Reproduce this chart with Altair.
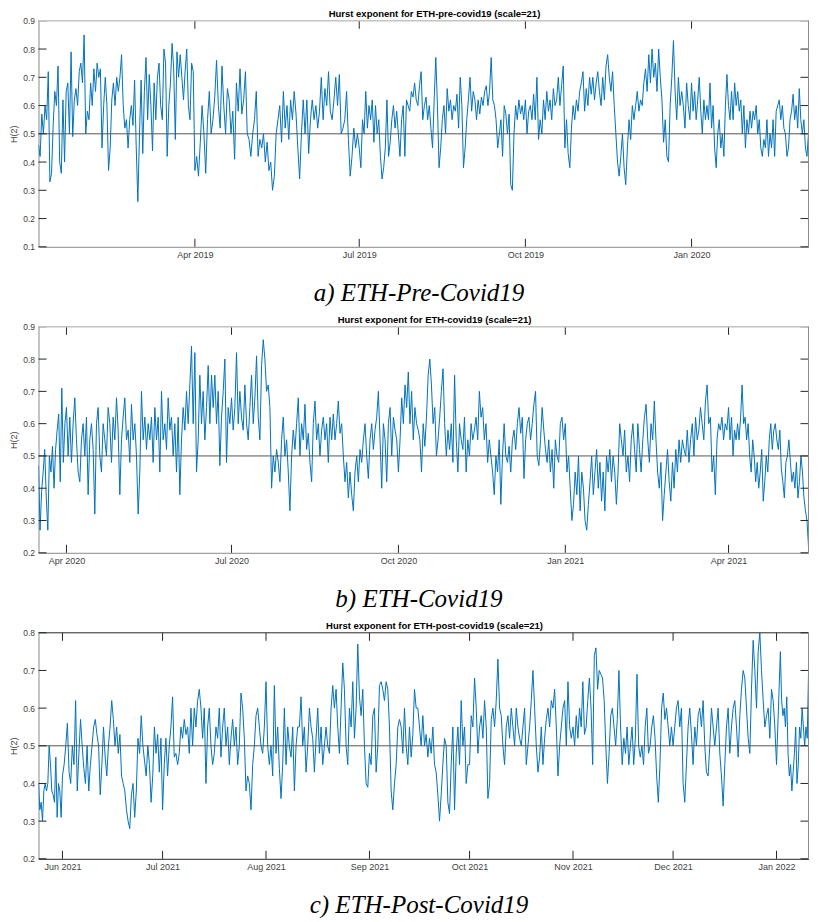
import altair as alt
import pandas as pd

# ---------------- data ----------------
# Panel a: ETH pre-covid19, segments between quarter boundaries (last bound = visible end)
A_BOUNDS = ["2019-01-04 10:00", "2019-04-01", "2019-07-01", "2019-10-01", "2020-01-01", "2020-03-05 18:00"]
A1 = [0.46,0.42,0.57,0.50,0.60,0.55,0.72,0.33,0.36,0.53,0.65,0.60,0.74,0.40,0.36,0.62,0.40,0.65,0.68,0.50,
      0.79,0.49,0.62,0.66,0.60,0.72,0.75,0.68,0.85,0.50,0.58,0.55,0.68,0.60,0.73,0.65,0.75,0.70,0.73,0.45,
      0.60,0.70,0.60,0.37,0.45,0.62,0.68,0.60,0.70,0.65,0.70,0.78,0.60,0.52,0.55,0.45,0.55,0.60,0.53,0.69,
      0.45,0.26,0.50,0.69,0.43,0.65,0.77,0.55,0.71,0.60,0.44,0.68,0.55,0.70,0.75,0.60,0.55,0.80,0.75,0.42,
      0.60,0.68,0.82,0.73,0.48,0.79,0.70,0.78,0.70,0.62,0.72,0.80,0.60,0.55,0.75,0.72]
A2 = [0.37,0.42,0.35,0.47,0.60,0.50,0.36,0.55,0.65,0.50,0.55,0.63,0.76,0.60,0.52,0.74,0.60,0.50,0.66,0.62,
      0.50,0.58,0.41,0.68,0.58,0.73,0.57,0.62,0.72,0.50,0.48,0.42,0.50,0.55,0.65,0.42,0.48,0.45,0.50,0.40,
      0.47,0.37,0.40,0.30,0.35,0.50,0.55,0.60,0.47,0.65,0.52,0.60,0.48,0.62,0.55,0.65,0.57,0.45,0.34,0.50,
      0.62,0.50,0.62,0.43,0.55,0.62,0.55,0.60,0.52,0.58,0.70,0.55,0.66,0.60,0.72,0.58,0.55,0.62,0.70,0.60,
      0.71,0.50,0.52,0.55,0.65,0.48,0.35,0.42,0.52,0.45,0.50]
A3 = [0.45,0.38,0.55,0.50,0.65,0.52,0.60,0.55,0.62,0.47,0.60,0.50,0.55,0.42,0.34,0.38,0.45,0.62,0.42,0.47,
      0.55,0.60,0.52,0.58,0.50,0.42,0.55,0.60,0.42,0.62,0.60,0.58,0.65,0.63,0.68,0.62,
      0.60,0.67,0.72,0.55,0.60,0.63,0.55,0.60,0.52,0.45,0.62,0.77,0.60,0.38,0.45,0.55,0.60,0.50,0.66,0.58,
      0.62,0.55,0.60,0.58,0.64,0.52,0.70,0.60,0.38,0.45,0.55,0.62,0.70,0.58,0.65,0.62,0.55,0.62,0.57,0.63,
      0.60,0.65,0.67,0.60,0.65,0.77,0.62,0.60,0.55,0.45,0.50,0.55,0.42,0.60,0.57,0.50,0.57,0.32,0.30,0.50,
      0.60,0.55,0.62,0.57,0.60,0.55]
A4 = [0.62,0.50,0.58,0.60,0.55,0.64,0.55,0.70,0.48,0.55,0.50,0.62,0.55,0.65,0.58,0.62,0.55,0.66,0.60,0.62,
      0.70,0.60,0.67,0.74,0.45,0.55,0.43,0.38,0.52,0.60,0.55,0.62,0.58,0.65,0.68,0.72,0.58,0.66,0.60,0.70,
      0.64,0.70,0.62,0.68,0.72,0.65,0.60,0.70,0.62,0.74,0.78,0.70,0.65,0.72,0.60,0.50,0.40,0.35,0.42,0.50,
      0.38,0.32,0.45,0.55,0.48,0.60,0.55,0.60,0.65,0.58,0.62,0.60,0.68,0.73,0.65,0.78,0.68,0.80,0.70,0.75,
      0.65,0.80,0.70,0.62,0.47,0.55,0.42,0.40,0.60,0.70,0.83,0.65,0.55,0.70,0.60,0.65,0.60,0.52,0.68,0.60,
      0.55]
A5 = [0.68,0.58,0.65,0.55,0.62,0.70,0.58,0.50,0.62,0.55,0.60,0.55,0.68,0.52,0.60,0.45,0.38,0.50,0.55,0.45,
      0.50,0.42,0.60,0.71,0.60,0.55,0.65,0.55,0.68,0.60,0.65,0.58,0.62,0.50,0.60,0.45,0.55,0.50,0.58,0.52,
      0.58,0.55,0.60,0.50,0.55,0.45,0.42,0.48,0.45,0.55,0.42,0.50,0.45,0.55,0.42,0.58,0.60,0.62,0.55,0.60,
      0.52,0.50,0.42,0.45,0.55,0.58,0.64,0.55,0.60,0.52,0.66,0.55,0.50,0.55,0.45,0.42,0.50]
A_XTICKS = ["2019-04-01", "2019-07-01", "2019-10-01", "2020-01-01"]
A_YTICKS = [0.1, 0.2, 0.3, 0.4, 0.5, 0.6, 0.7, 0.8, 0.9]

# Panel b: ETH covid19
B_BOUNDS = ["2020-03-16 14:00", "2020-04-01", "2020-07-01", "2020-10-01", "2021-01-01", "2021-04-01", "2021-05-15 02:00"]
B1 = [0.47,0.27,0.39,0.45,0.52,0.37,0.27,0.50,0.45,0.53,0.40,0.52,0.58,0.63,0.42,0.71,0.48,0.60]
B2 = [0.65,0.50,0.62,0.48,0.60,0.68,0.55,0.45,0.42,0.55,0.60,0.50,0.62,0.38,0.55,0.60,0.52,0.32,0.60,0.65,
      0.50,0.45,0.60,0.55,0.50,0.65,0.60,0.48,0.62,0.55,0.68,0.58,0.38,0.55,0.62,0.68,0.55,0.58,0.48,0.66,
      0.55,0.60,0.50,0.32,0.45,0.70,0.55,0.62,0.52,0.60,0.55,0.62,0.48,0.65,0.55,0.62,0.45,0.70,0.55,0.60,
      0.52,0.68,0.58,0.62,0.50,0.60,0.45,0.62,0.38,0.55,0.65,0.58,0.70,0.60,0.72,0.84,0.60,0.82,0.45,0.55,
      0.75,0.60,0.70,0.55,0.65,0.78,0.60,0.75,0.65,0.75,0.60,0.70,0.47,0.62,0.70,0.80,0.48,0.65,0.60]
B3 = [0.68,0.58,0.65,0.82,0.60,0.70,0.62,0.58,0.72,0.60,0.55,0.65,0.75,0.60,0.68,0.81,0.62,0.55,0.78,0.86,
      0.80,0.70,0.72,0.65,0.40,0.50,0.45,0.52,0.48,0.42,0.55,0.62,0.50,0.55,0.45,0.33,0.50,0.58,0.52,0.60,
      0.68,0.50,0.60,0.55,0.66,0.52,0.57,0.48,0.42,0.60,0.67,0.55,0.60,0.50,0.58,0.62,0.55,0.60,0.48,0.62,
      0.55,0.63,0.55,0.60,0.67,0.57,0.60,0.50,0.42,0.48,0.37,0.45,0.38,0.33,0.45,0.50,0.42,0.52,0.48,0.55,
      0.60,0.50,0.43,0.55,0.60,0.52,0.58,0.62,0.70,0.55,0.40,0.60,0.55,0.42,0.60,0.65,0.50,0.62,0.58,0.55]
B4 = [0.45,0.55,0.68,0.60,0.72,0.65,0.76,0.60,0.70,0.55,0.65,0.60,
      0.58,0.55,0.45,0.60,0.53,0.62,0.75,0.80,0.72,0.60,0.65,0.50,0.55,0.62,0.70,0.77,0.60,0.50,0.58,0.52,
      0.60,0.48,0.75,0.55,0.45,0.60,0.55,0.52,0.62,0.45,0.55,0.50,0.60,0.55,0.58,0.62,0.55,0.70,0.62,0.65,
      0.55,0.60,0.48,0.55,0.50,0.45,0.38,0.50,0.45,0.55,0.35,0.50,0.60,0.50,0.48,0.53,0.45,0.55,0.58,0.52,
      0.60,0.65,0.57,0.62,0.43,0.55,0.60,0.62,0.55,0.60,0.66,0.70,0.50,0.47,0.55,0.65,0.58,0.52,0.48,0.55,
      0.45,0.52,0.40,0.55,0.50,0.48,0.60,0.62,0.55]
B5 = [0.60,0.45,0.50,0.40,0.30,0.35,0.45,0.38,0.50,0.33,0.45,0.40,0.30,0.27,0.35,0.42,0.50,0.38,0.45,0.52,
      0.40,0.48,0.36,0.45,0.33,0.50,0.45,0.52,0.42,0.50,0.45,0.35,0.45,0.60,0.55,0.50,0.58,0.45,0.50,0.42,
      0.55,0.60,0.52,0.45,0.60,0.52,0.45,0.55,0.62,0.66,0.55,0.48,0.60,0.55,0.67,0.55,0.45,0.40,0.48,0.30,
      0.38,0.45,0.52,0.42,0.36,0.48,0.40,0.52,0.45,0.55,0.48,0.55,0.52,0.50,0.58,0.48,0.55,0.60,0.50,0.62,
      0.55,0.58,0.65,0.60,0.55,0.67,0.72,0.60,0.62,0.45,0.50,0.38,0.55,0.60,0.58,0.62,0.55,0.60,0.58]
B6 = [0.65,0.55,0.62,0.50,0.58,0.55,0.60,0.55,0.62,0.72,0.60,0.62,0.55,0.60,0.50,0.45,0.55,0.50,0.42,0.48,
      0.40,0.45,0.52,0.36,0.42,0.50,0.45,0.55,0.60,0.52,0.58,0.60,0.55,0.52,0.58,0.46,0.42,0.37,0.48,0.50,
      0.55,0.48,0.42,0.45,0.40,0.48,0.37,0.42,0.50,0.45,0.37,0.33,0.30,0.22]
B_XTICKS = ["2020-04-01", "2020-07-01", "2020-10-01", "2021-01-01", "2021-04-01"]
B_YTICKS = [0.2, 0.3, 0.4, 0.5, 0.6, 0.7, 0.8, 0.9]

# Panel c: ETH post-covid19
C_BOUNDS = ["2021-05-24 19:30", "2021-06-01", "2021-07-01", "2021-08-01", "2021-09-01", "2021-10-01",
            "2021-11-01", "2021-12-01", "2022-01-01", "2022-01-10 14:00"]
C1 = [0.40,0.33,0.35,0.30,0.38,0.40,0.38,0.40,0.50,0.45,0.38,0.37,0.35,0.47,0.31,0.40,0.38,0.31]
C2 = [0.42,0.45,0.50,0.56,0.43,0.40,0.50,0.45,0.62,0.38,0.48,0.57,0.50,0.44,0.40,0.50,0.38,0.45,0.50,0.55,
      0.57,0.53,0.50,0.37,0.45,0.55,0.47,0.42,0.50,0.55,0.62,0.57,0.50,0.55,0.48,0.53,0.42,0.40,0.38,0.33,
      0.30,0.28,0.37,0.40,0.31,0.38,0.52,0.48,0.58,0.50,0.46,0.42,0.50,0.45,0.35,0.42,0.55,0.48,0.53,0.43,
      0.52]
C3 = [0.33,0.45,0.52,0.42,0.50,0.55,0.63,0.47,0.48,0.45,0.48,0.55,0.52,0.57,0.53,0.55,0.48,0.60,0.50,0.60,
      0.55,0.62,0.65,0.60,0.52,0.60,0.40,0.55,0.60,0.50,0.45,0.48,0.55,0.52,0.60,0.47,0.55,0.60,0.50,0.55,
      0.45,0.52,0.57,0.50,0.55,0.45,0.50,0.64,0.60,0.52,0.38,0.42,0.40,0.33,0.45,0.50,0.58,0.60,0.55,0.50,
      0.48,0.55]
C4 = [0.67,0.50,0.45,0.50,0.42,0.66,0.48,0.55,0.44,0.36,0.45,0.60,0.45,0.55,0.50,0.47,0.55,0.38,0.50,0.55,
      0.55,0.63,0.50,0.55,0.43,0.50,0.60,0.55,0.52,0.43,0.52,0.60,0.48,0.55,0.45,0.50,0.55,0.50,0.48,0.60,
      0.66,0.60,0.65,0.55,0.48,0.60,0.72,0.65,0.50,0.45,0.60,0.55,0.67,0.52,0.60,0.77,0.63,0.58,0.65,0.50,
      0.40,0.39]
C5 = [0.48,0.45,0.58,0.60,0.43,0.50,0.66,0.67,0.65,0.62,0.67,0.65,0.55,0.38,0.33,0.40,0.45,0.55,0.57,0.55,
      0.48,0.60,0.50,0.45,0.55,0.47,0.53,0.65,0.60,
      0.60,0.55,0.50,0.58,0.50,0.53,0.47,0.52,0.48,0.55,0.45,0.43,0.37,0.30,0.37,0.45,0.52,0.50,0.35,0.32,
      0.45,0.55,0.33,0.48,0.55,0.45,0.62,0.50,0.55,0.40,0.45]
C6 = [0.45,0.58,0.55,0.68,0.60,0.48,0.55,0.58,0.52,0.62,0.55,0.36,0.40,0.57,0.60,0.55,0.62,0.73,0.60,0.58,
      0.50,0.45,0.55,0.58,0.52,0.60,0.55,0.50,0.60,0.55,0.52,0.50,0.55,0.60,0.45,0.50,0.55,0.62,0.70,0.60,
      0.50,0.43,0.47,0.55,0.45,0.52,0.57,0.60,0.55,0.62,0.60,0.65,0.55,0.42,0.50,0.55,0.60,0.62,0.50,0.67,
      0.55,0.52]
C7 = [0.55,0.50,0.58,0.52,0.60,0.55,0.67,0.53,0.55,0.62,0.68,0.60,0.45,0.74,0.76,0.65,0.70,0.69,0.68,0.62,
      0.50,0.40,0.48,0.58,0.60,0.55,0.50,0.57,0.70,0.55,0.45,0.52,0.48,0.55,0.45,0.50,0.55,0.45,0.52,0.69,
      0.50,0.47,0.50,0.45,0.55,0.60,0.48,0.50,0.55,0.58,0.52,0.42,0.35,0.45,0.60,0.64,0.57,0.60,0.55,0.50,
      0.55]
C8 = [0.50,0.55,0.60,0.62,0.55,0.60,0.40,0.35,0.45,0.55,0.60,0.53,0.45,0.55,0.50,0.58,0.60,0.55,0.62,0.50,
      0.43,0.42,0.50,0.60,0.55,0.50,0.55,0.60,0.48,0.42,0.34,0.45,0.55,0.60,0.48,0.55,0.60,0.62,0.55,0.47,
      0.58,0.65,0.70,0.68,0.60,0.52,0.48,0.65,0.78,0.70,0.60,0.75,0.80,0.70,0.62,0.55,0.58,0.60,0.52,0.65,
      0.62,0.55]
C9 = [0.45,0.55,0.65,0.75,0.62,0.58,0.60,0.55,0.63,0.48,0.42,0.45,0.38,0.43,0.48,0.55,0.40,0.45,0.55,0.52,
      0.60,0.55,0.50,0.55,0.52,0.69]
C_XTICKS = ["2021-06-01", "2021-07-01", "2021-08-01", "2021-09-01", "2021-10-01", "2021-11-01",
            "2021-12-01", "2022-01-01"]
C_YTICKS = [0.2, 0.3, 0.4, 0.5, 0.6, 0.7, 0.8]

TITLES = ["Hurst exponent for ETH-pre-covid19 (scale=21)",
          "Hurst exponent for ETH-covid19 (scale=21)",
          "Hurst exponent for ETH-post-covid19 (scale=21)"]
CAPTIONS = ["a) ETH-Pre-Covid19", "b) ETH-Covid19", "c) ETH-Post-Covid19"]

# ---------------- styling ----------------
W, H = 770, 226
BLUE = "#0072BD"
SANS = "Liberation Sans"
SERIF = "Liberation Serif"
LABEL = "#404040"
TICK = "#262626"
AXIS_GRAY = "#8a8a8a"


def series(bounds, segs):
    dates, vals = [], []
    for i, seg in enumerate(segs):
        last = i == len(segs) - 1
        n = len(seg) if last else len(seg) + 1
        t = pd.date_range(bounds[i], bounds[i + 1], periods=n)
        if not last:
            t = t[:-1]
        dates.extend(list(t))
        vals.extend(seg)
    return pd.DataFrame({"date": dates, "h": vals})


def dt(s):
    t = pd.Timestamp(s)
    return alt.DateTime(year=t.year, month=t.month, date=t.day, hours=t.hour, minutes=t.minute)


def panel(df, bounds, xticks, yticks, title, caption, top_color, top_width, bottom_color):
    x = alt.X("date:T",
              scale=alt.Scale(domain=[dt(bounds[0]), dt(bounds[-1])]),
              axis=alt.Axis(values=[dt(t) for t in xticks], format="%b %Y", title=caption,
                            labelFont=SANS, labelFontSize=9, labelColor=LABEL, labelPadding=4,
                            ticks=False, tickSize=0, domainColor=bottom_color, domainWidth=1,
                            grid=False, labelOverlap=False, labelFlush=False,
                            titleFont=SERIF, titleFontStyle="italic", titleFontWeight="normal",
                            titleFontSize=25, titleColor="black", titlePadding=21,
                            titleX=380, titleAlign="center", titleBaseline="top"))
    y = alt.Y("h:Q",
              scale=alt.Scale(domain=[yticks[0], yticks[-1]], nice=False, zero=False),
              axis=alt.Axis(values=yticks, format=".1f", title="H(2)",
                            labelFont=SANS, labelFontSize=8.5, labelColor=LABEL, labelPadding=4,
                            ticks=False, tickSize=0, domainColor=AXIS_GRAY, domainWidth=1, grid=False,
                            labelOverlap=False, labelFlush=False,
                            titleFont=SANS, titleFontSize=9, titleFontWeight="normal",
                            titleColor=LABEL, titlePadding=4))
    line = alt.Chart(df).mark_line(color=BLUE, strokeWidth=1, clip=True).encode(x=x, y=y)
    ref = alt.Chart(pd.DataFrame({"h": [0.5]})).mark_rule(color="#555555", strokeWidth=1).encode(y=y)
    xt = pd.DataFrame({"date": pd.to_datetime(xticks)})
    yt = pd.DataFrame({"h": yticks})
    top_ticks = alt.Chart(xt).mark_rule(color=TICK, strokeWidth=1).encode(
        x=x, y=alt.value(0), y2=alt.value(8))
    bot_ticks = alt.Chart(xt).mark_rule(color=TICK, strokeWidth=1).encode(
        x=x, y=alt.value(H - 8), y2=alt.value(H))
    left_ticks = alt.Chart(yt).mark_rule(color=TICK, strokeWidth=1).encode(
        y=y, x=alt.value(0), x2=alt.value(8))
    right_ticks = alt.Chart(yt).mark_rule(color=TICK, strokeWidth=1).encode(
        y=y, x=alt.value(W - 8), x2=alt.value(W))
    one = pd.DataFrame({"k": [0]})
    top_border = alt.Chart(one).mark_rule(color=top_color, strokeWidth=top_width).encode(
        x=alt.value(0), x2=alt.value(W), y=alt.value(0))
    right_border = alt.Chart(one).mark_rule(color=AXIS_GRAY, strokeWidth=1).encode(
        x=alt.value(W), y=alt.value(0), y2=alt.value(H))
    return alt.layer(line, ref, top_ticks, bot_ticks, left_ticks, right_ticks, top_border, right_border).properties(
        width=W, height=H,
        title=alt.Title(title, font=SANS, fontSize=9.5, fontWeight="bold", color="black",
                        anchor="middle", dx=11, offset=-2),
        view=alt.ViewBackground(stroke=None),
    )


dfa = series(A_BOUNDS, [A1, A2, A3, A4, A5])
dfb = series(B_BOUNDS, [B1, B2, B3, B4, B5, B6])
dfc = series(C_BOUNDS, [C1, C2, C3, C4, C5, C6, C7, C8, C9])

pa = panel(dfa, A_BOUNDS, A_XTICKS, A_YTICKS, TITLES[0], CAPTIONS[0], "#c4c4c4", 1.5, AXIS_GRAY)
pb = panel(dfb, B_BOUNDS, B_XTICKS, B_YTICKS, TITLES[1], CAPTIONS[1], "#c4c4c4", 1.5, AXIS_GRAY)
pc = panel(dfc, C_BOUNDS, C_XTICKS, C_YTICKS, TITLES[2], CAPTIONS[2], "#262626", 1, "#262626")

chart = alt.vconcat(pa, pb, pc, spacing=9).properties(
    padding={"left": 1.5, "top": 0.8, "right": 0, "bottom": 0},
    background="white",
)

chart.save("out.html", embed_options={"renderer": "svg", "actions": False})
